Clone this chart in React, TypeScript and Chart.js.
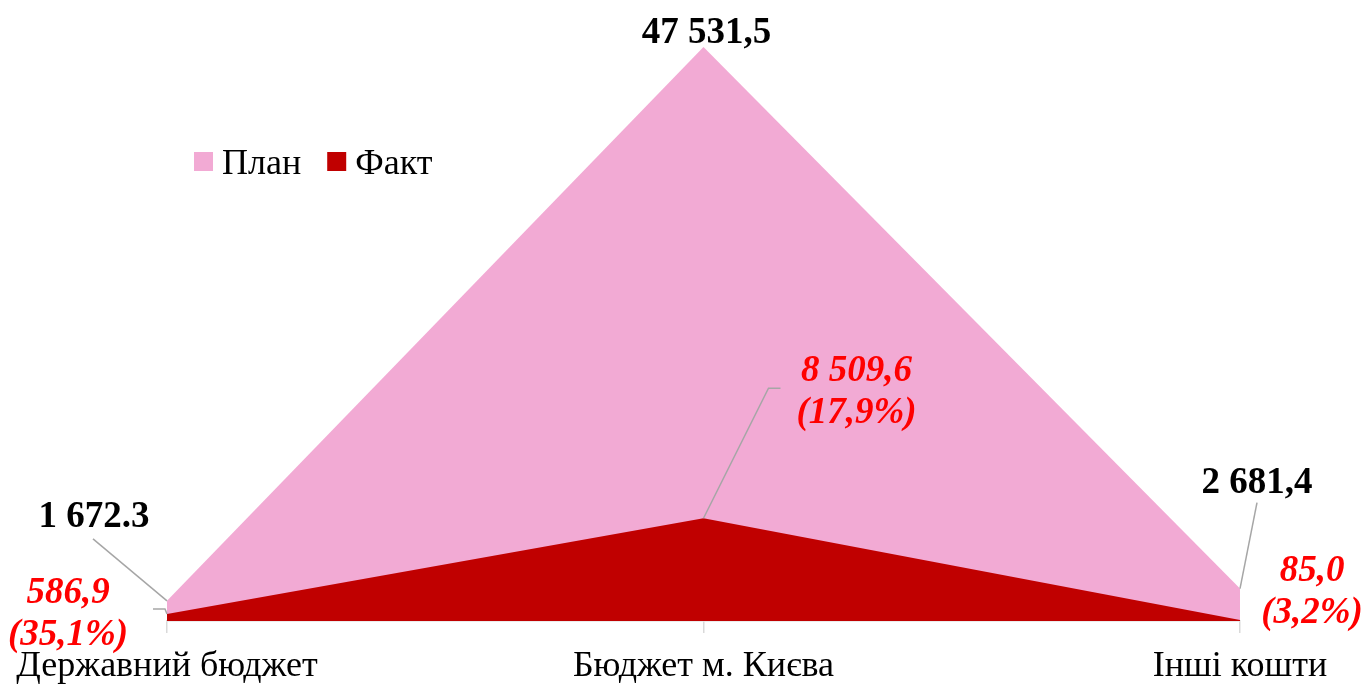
import React, { useEffect, useRef } from "react";
import { Chart, registerables } from "chart.js";

Chart.register(...registerables);

const categories = ["Державний бюджет", "Бюджет м. Києва", "Інші кошти"];
const planValues = [1672.3, 47531.5, 2681.4];
const factValues = [586.9, 8509.6, 85.0];
const planLabels = ["1 672.3", "47 531,5", "2 681,4"];
const factLabels = [
  ["586,9", "(35,1%)"],
  ["8 509,6", "(17,9%)"],
  ["85,0", "(3,2%)"],
];
const seriesNames = ["План", "Факт"];

const FONT = '"Liberation Serif", "Times New Roman", serif';
const PINK = "#F2AAD4";
const RED = "#C00000";

// label layout: offsets relative to the data point pixel
const planLayout = [
  { dx: -73, baseline: -74, leader: [[-74, -62], [0, 0]] },
  { dx: 3, baseline: -4, leader: null },
  { dx: 17, baseline: -96, leader: [[17, -86], [0, 0]] },
];
const factLayout = [
  { dx: -99, baseline: -11, lineGap: 42, leader: [[-14, -5], [-2, -5], [0, 0]] },
  { dx: 153, baseline: -137, lineGap: 42, leader: [[0, 0], [65, -130], [77, -130]] },
  { dx: 72, baseline: -39, lineGap: 42, leader: null },
];

const labelPlugin = {
  id: "customLabels",
  afterDatasetsDraw(chart: any) {
    const ctx = chart.ctx;
    const planMeta = chart.getDatasetMeta(0);
    const factMeta = chart.getDatasetMeta(1);
    ctx.save();
    ctx.strokeStyle = "#A6A6A6";
    ctx.lineWidth = 1.5;
    const drawLeader = (pt: any, leader: number[][] | null) => {
      if (!leader) return;
      ctx.beginPath();
      leader.forEach(([ox, oy], i) => {
        if (i === 0) ctx.moveTo(pt.x + ox, pt.y + oy);
        else ctx.lineTo(pt.x + ox, pt.y + oy);
      });
      ctx.stroke();
    };
    planMeta.data.forEach((pt: any, i: number) => drawLeader(pt, planLayout[i].leader));
    factMeta.data.forEach((pt: any, i: number) => drawLeader(pt, factLayout[i].leader));

    ctx.textAlign = "center";
    ctx.textBaseline = "alphabetic";
    ctx.fillStyle = "#000000";
    ctx.font = `bold 37px ${FONT}`;
    planMeta.data.forEach((pt: any, i: number) => {
      const l = planLayout[i];
      ctx.fillText(planLabels[i], pt.x + l.dx, pt.y + l.baseline);
    });
    ctx.fillStyle = "#FF0000";
    ctx.font = `italic bold 37px ${FONT}`;
    factMeta.data.forEach((pt: any, i: number) => {
      const l = factLayout[i];
      factLabels[i].forEach((line, j) => {
        ctx.fillText(line, pt.x + l.dx, pt.y + l.baseline + j * l.lineGap);
      });
    });
    ctx.restore();
  },
};

const legendPlugin = {
  id: "customLegend",
  afterDraw(chart: any) {
    const ctx = chart.ctx;
    ctx.save();
    ctx.font = `36px ${FONT}`;
    ctx.textBaseline = "alphabetic";
    ctx.textAlign = "left";
    let x = 194;
    const boxY = 152;
    const baseline = 174;
    chart.data.datasets.forEach((ds: any) => {
      ctx.fillStyle = ds.backgroundColor;
      ctx.fillRect(x, boxY, 19, 19);
      ctx.fillStyle = "#000000";
      ctx.fillText(ds.label, x + 28, baseline);
      x += 28 + ctx.measureText(ds.label).width + 26;
    });
    ctx.restore();
  },
};

export default function App() {
  const canvasRef = useRef<HTMLCanvasElement | null>(null);

  useEffect(() => {
    if (!canvasRef.current) return;
    const chart = new Chart(canvasRef.current, {
      type: "line",
      data: {
        labels: categories,
        datasets: [
          {
            label: seriesNames[0],
            data: planValues,
            backgroundColor: PINK,
            borderWidth: 0,
            pointRadius: 0,
            fill: "origin",
            tension: 0,
            order: 2,
          },
          {
            label: seriesNames[1],
            data: factValues,
            backgroundColor: RED,
            borderWidth: 0,
            pointRadius: 0,
            fill: "origin",
            tension: 0,
            order: 1,
          },
        ],
      },
      options: {
        responsive: false,
        animation: false,
        layout: { padding: { left: 167, right: 125, top: 47, bottom: 0 } },
        plugins: {
          legend: { display: false },
          tooltip: { enabled: false },
        },
        scales: {
          x: {
            offset: false,
            grid: {
              drawOnChartArea: false,
              drawTicks: true,
              tickLength: 12,
              color: "#D9D9D9",
              lineWidth: 1.5,
            },
            border: { display: true, color: "#D9D9D9", width: 1.5 },
            ticks: {
              color: "#000000",
              font: { family: FONT, size: 36, lineHeight: 1 },
              padding: 16,
              maxRotation: 0,
              autoSkip: false,
            },
          },
          y: {
            display: false,
            min: 0,
            max: 47531.5,
          },
        },
      },
      plugins: [labelPlugin, legendPlugin],
    });
    return () => chart.destroy();
  }, []);

  return (
    <div style={{ position: "fixed", left: 0, top: 0, width: 1365, height: 684, overflow: "hidden", background: "#ffffff" }}>
      <canvas ref={canvasRef} width={1365} height={701} style={{ display: "block" }} />
    </div>
  );
}
